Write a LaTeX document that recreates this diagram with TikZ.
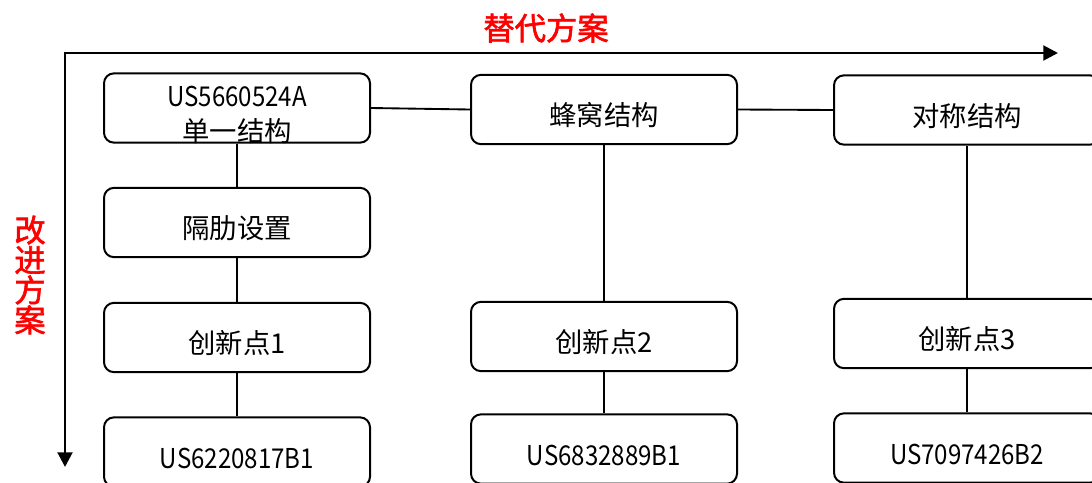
\documentclass[tikz,border=0pt]{standalone}
\usepackage{fontspec}
\setmainfont{Noto Sans CJK SC}[AutoFakeBold=2]
\newfontfamily\idfont{Noto Sans CJK SC}[FakeStretch=0.88]
\usetikzlibrary{arrows.meta}
\tikzset{
  box/.style={draw=black, line width=1.5pt, rounded corners=7.5pt, minimum width=199.5pt, minimum height=52pt, inner sep=0pt, align=center, text height=24pt, text depth=0pt, font=\fontsize{20.5pt}{26pt}\selectfont},
  link/.style={draw=black, line width=1.4pt},
  axis/.style={draw=black, line width=2.2pt, -{Triangle[length=11pt,width=11pt]}},
  redlabel/.style={text=red, font=\fontsize{23.5pt}{22.5pt}\selectfont\bfseries, align=center}
}
\begin{document}
\begin{tikzpicture}[x=0.75pt,y=-0.75pt]
\useasboundingbox (0,0) rectangle (1092,482);
\begin{scope}
\clip (0,0) rectangle (1092,482);
% axes
\coordinate (o) at (65,53);
\coordinate (xe) at (1058,53);
\coordinate (ye) at (65,467);
\draw[axis] (o) -- (xe);
\draw[axis] ([yshift=1.1pt]o) -- (ye);
\node[redlabel] (t1) at (546,28) {替代方案};
\node[redlabel] (t2) at (30,275) {改\\进\\方\\案};
% column 1
\node[box, text height=50pt, text depth=0pt] (a1) at (237,108) {{\idfont US5660524A}\\[0pt]单一结构};
\node[box] (a2) at (237,222.5) {隔肋设置};
\node[box] (a3) at (237,337.5) {创新点1};
\node[box] (a4) at (237,452) {\idfont US6220817B1};
% column 2
\node[box] (b1) at (604,109.5) {蜂窝结构};
\node[box] (b3) at (604,336.5) {创新点2};
\node[box] (b4) at (604,449) {\idfont US6832889B1};
% column 3
\node[box] (c1) at (967,110) {对称结构};
\node[box] (c3) at (967,333.5) {创新点3};
\node[box] (c4) at (967,448) {\idfont US7097426B2};
% connectors
\draw[link] (a1) -- (a2);
\draw[link] (a2) -- (a3);
\draw[link] (a3) -- (a4);
\draw[link] (b1) -- (b3);
\draw[link] (b3) -- (b4);
\draw[link] (c1) -- (c3);
\draw[link] (c3) -- (c4);
\draw[link] (a1.east) -- (b1.west);
\draw[link] (b1.east) -- (c1.west);
\end{scope}
\end{tikzpicture}
\end{document}
